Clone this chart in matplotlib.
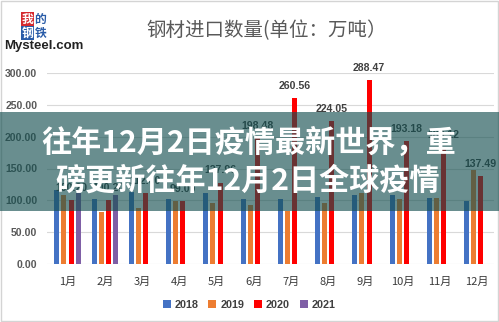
import numpy as np
from matplotlib import pyplot as plt
from matplotlib.patches import Rectangle

plt.rcParams['font.family'] = ['Noto Sans CJK SC', 'DejaVu Sans']

# Dane wykresu
months = ['1月', '2月', '3月', '4月', '5月', '6月', '7月', '8月', '9月', '10月', '11月', '12月']
years = ['2018', '2019', '2020', '2021']
s2018 = [117.0, 101.6, 113.6, 102.6, 111.5, 102.0, 102.0, 105.7, 108.0, 108.0, 104.0, 99.5]
s2019 = [108.0, 81.0, 88.5, 99.0, 96.0, 92.7, 82.5, 96.0, 111.0, 102.0, 103.0, 147.6]
s2020 = [100.20, 100.20, 112.0, 99.0, 127.96, 198.48, 260.56, 224.05, 288.47, 193.18, 183.12, 137.49]
s2021 = [111.0, 109.0] + [np.nan] * 10
yticks = [0, 50, 100, 150, 200, 250, 300]

colors = ['#4472c4', '#ed7d31', '#ff0000', '#7f5fa6']
W, H = 499, 322


def px(x, y):
    # piksele obrazka -> współrzędne figury
    return x / W, 1 - y / H


fig = plt.figure(figsize=(W / 100, H / 100), dpi=100)
fig.patch.set_facecolor('white')
ax = fig.add_axes([47 / W, 58 / H, 447 / W, 191 / H])

x = np.arange(len(months))
step = 0.19
bw = 0.135
for i, (vals, c) in enumerate(zip([s2018, s2019, s2020, s2021], colors)):
    ax.bar(x + (i - 1.5) * step, vals, bw, color=c, label=years[i], zorder=2)

# etykiety danych tylko dla 2020
for xi, v in zip(x, s2020):
    ax.text(xi + 0.5 * step, v + 19, f'{v:.2f}', ha='center', va='center',
            fontsize=7.6, color='#404040', family='Liberation Sans',
            weight='bold', clip_on=False, zorder=3)

ax.set_xlim(-0.55, 11.45)
ax.set_ylim(0, 300)
ax.set_yticks(yticks)
ax.set_yticklabels([f'{t:.2f}' for t in yticks], family='Liberation Sans',
                   weight='bold', fontsize=7.6, color='#595959')
ax.set_xticks(x)
ax.set_xticklabels(months, fontsize=8, color='#3a3a3a', weight='medium')
ax.tick_params(axis='both', length=0)
ax.tick_params(axis='x', pad=9)
ax.tick_params(axis='y', pad=7)
ax.grid(axis='y', color='#d9d9d9', lw=0.8, zorder=0)
for s in ax.spines.values():
    s.set_visible(False)
ax.set_axisbelow(True)

leg = ax.legend(loc='center', bbox_to_anchor=(0.499, 17 / H),
                bbox_transform=fig.transFigure, ncol=4, frameon=False,
                handlelength=0.75, handleheight=0.75, handletextpad=0.35,
                columnspacing=0.9, prop={'family': 'Liberation Sans',
                                         'weight': 'bold', 'size': 7.8})
for t in leg.get_texts():
    t.set_color('#404040')

# tytuł
fig.text(*px(267, 31), '钢材进口数量(单位：万吨）', ha='center', va='center',
         fontsize=14, color='#595959')

# logo
logo = [('我', 21, 12, '#d52a2f', 'white'), ('的', 34, 12, 'white', '#2a5ca8'),
        ('钢', 21, 26, '#2a5ca8', 'white'), ('铁', 34, 26, 'white', '#2a5ca8')]
for ch, lx, ly, bg, fg in logo:
    fig.patches.append(Rectangle(px(lx, ly + 14), 13 / W, 14 / H,
                                 transform=fig.transFigure, facecolor=bg,
                                 edgecolor='none'))
    fig.text(*px(lx + 6.5, ly + 7), ch, ha='center', va='center',
             fontsize=8.5, weight='bold', color=fg)
fig.text(*px(44, 46), 'Mysteel.com', ha='center', va='center', fontsize=9.5,
         weight='bold', color='#222222', family='Liberation Sans')

# ramka
fig.patches.append(Rectangle((0.003, 0.004), 0.994, 0.992,
                             transform=fig.transFigure, fill=False,
                             edgecolor='#d4d4d4', lw=1))

# półprzezroczysty baner
fig.patches.append(Rectangle(px(0, 211), 1, 99 / H, transform=fig.transFigure,
                             facecolor='#144f50', alpha=0.64,
                             edgecolor='none', zorder=5))
fig.text(*px(249, 143), '往年12月2日疫情最新世界，重', ha='center', va='center',
         fontsize=21.7, weight='bold', color='white', zorder=6)
fig.text(*px(248, 181), '磅更新往年12月2日全球疫情', ha='center', va='center',
         fontsize=21.7, weight='bold', color='white', zorder=6)

fig.savefig('out.png', dpi=100)
